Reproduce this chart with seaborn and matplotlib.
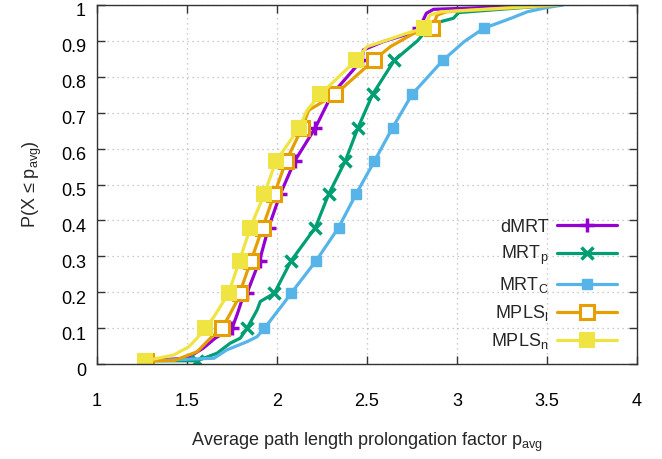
import matplotlib
matplotlib.use("Agg")
import matplotlib.pyplot as plt
import matplotlib.transforms as mtrans
from matplotlib.lines import Line2D
import seaborn as sns

# ---------------- data ----------------
MARK_Y = [0.009, 0.099, 0.197, 0.288, 0.38, 0.473, 0.565, 0.658, 0.751, 0.846, 0.935]

dmrt_x = [1.27, 1.50, 1.59, 1.657, 1.75, 1.78, 1.805, 1.833, 1.903, 1.953, 2.018, 2.098,
          2.213, 2.305, 2.47, 2.48, 2.59, 2.74, 2.79, 2.83, 2.87, 3.57]
dmrt_y = [0.009, 0.016, 0.044, 0.072, 0.099, 0.14, 0.178, 0.197, 0.288, 0.38, 0.473, 0.565,
          0.658, 0.751, 0.846, 0.875, 0.898, 0.921, 0.935, 0.977, 0.988, 1.0]

mrtp_x = [1.27, 1.556, 1.667, 1.74, 1.796, 1.833, 1.889, 1.907, 1.985, 2.079, 2.213, 2.287,
          2.379, 2.45, 2.531, 2.652, 2.78, 2.84, 2.89, 2.98, 3.01, 3.55]
mrtp_y = [0.009, 0.009, 0.03, 0.058, 0.072, 0.099, 0.15, 0.174, 0.197, 0.288, 0.38, 0.473,
          0.565, 0.658, 0.751, 0.846, 0.90, 0.935, 0.951, 0.963, 0.979, 1.0]

mrtc_x = [1.27, 1.65, 1.72, 1.833, 1.889, 1.93, 1.98, 2.037, 2.078, 2.218, 2.342, 2.439,
          2.541, 2.642, 2.75, 2.922, 3.04, 3.148, 3.30, 3.39, 3.50, 3.59]
mrtc_y = [0.009, 0.016, 0.039, 0.062, 0.076, 0.099, 0.132, 0.169, 0.197, 0.288, 0.38, 0.473,
          0.565, 0.658, 0.751, 0.846, 0.898, 0.935, 0.963, 0.981, 0.993, 1.0]

mplsl_x = [1.27, 1.43, 1.556, 1.63, 1.694, 1.74, 1.78, 1.792, 1.856, 1.92, 1.985, 2.05,
           2.14, 2.176, 2.324, 2.537, 2.63, 2.76, 2.86, 2.89, 2.94, 3.56]
mplsl_y = [0.009, 0.01, 0.034, 0.072, 0.099, 0.14, 0.178, 0.197, 0.288, 0.38, 0.473, 0.565,
           0.658, 0.707, 0.751, 0.846, 0.884, 0.921, 0.935, 0.972, 0.981, 1.0]

mplsn_x = [1.268, 1.426, 1.51, 1.556, 1.602, 1.65, 1.685, 1.731, 1.792, 1.852, 1.929, 1.994,
           2.124, 2.167, 2.241, 2.439, 2.50, 2.61, 2.72, 2.814, 2.85, 2.91, 3.56]
mplsn_y = [0.009, 0.025, 0.048, 0.072, 0.099, 0.132, 0.16, 0.197, 0.288, 0.38, 0.473, 0.565,
           0.658, 0.707, 0.751, 0.846, 0.884, 0.902, 0.921, 0.935, 0.972, 0.981, 1.0]

labels = ["dMRT", r"MRT$_\mathrm{p}$", r"MRT$_\mathrm{C}$", r"MPLS$_\mathrm{l}$", r"MPLS$_\mathrm{n}$"]
x_ticks = [1, 1.5, 2, 2.5, 3, 3.5, 4]
x_ticklabels = ["1", "1.5", "2", "2.5", "3", "3.5", "4"]
y_ticks = [0, 0.1, 0.2, 0.3, 0.4, 0.5, 0.6, 0.7, 0.8, 0.9, 1.0]
y_ticklabels = ["0", "0.1", "0.2", "0.3", "0.4", "0.5", "0.6", "0.7", "0.8", "0.9", "1"]

# ---------------- style ----------------
sns.set_theme(style="ticks")
plt.rcParams["font.family"] = ["Liberation Sans", "DejaVu Sans"]
plt.rcParams["mathtext.fontset"] = "custom"
plt.rcParams["mathtext.rm"] = "Liberation Sans"
plt.rcParams["mathtext.it"] = "Liberation Sans:italic"
plt.rcParams["mathtext.bf"] = "Liberation Sans:bold"

FS = 13
colors = ["#9400D3", "#009E73", "#56B4E9", "#E69F00", "#F0E442"]
styles = [
    dict(marker="+", markersize=10, markeredgewidth=2.5),
    dict(marker="x", markersize=9, markeredgewidth=2.5),
    dict(marker="s", markersize=7, markeredgewidth=1.0),
    dict(marker="s", markersize=10, markeredgewidth=2.2, markerfacecolor="white"),
    dict(marker="s", markersize=11, markeredgewidth=0.0),
]

series = [(dmrt_x, dmrt_y), (mrtp_x, mrtp_y), (mrtc_x, mrtc_y),
          (mplsl_x, mplsl_y), (mplsn_x, mplsn_y)]

fig = plt.figure(figsize=(6.62, 4.59), dpi=100)
ax = fig.add_axes([97 / 662, 1 - 364 / 459, 540 / 662, 359 / 459])

handles = []
for (xs, ys), c, st, lab in zip(series, colors, styles, labels):
    mev = [i for i, v in enumerate(ys) if round(v, 3) in MARK_Y]
    sns.lineplot(x=xs, y=ys, sort=False, estimator=None, ax=ax, color=c,
                 linewidth=2.3, markevery=mev, markeredgecolor=c,
                 **({"markerfacecolor": c} | st))
    handles.append(Line2D([], [], color=c, linewidth=2.3, markeredgecolor=c,
                          **({"markerfacecolor": c} | st)))

ax.set_xlim(1, 4)
ax.set_ylim(0, 1)
ax.set_xticks(x_ticks)
ax.set_xticklabels(x_ticklabels)
ax.set_yticks(y_ticks)
ax.set_yticklabels(y_ticklabels)

ax.grid(True, color="#bbbbbb", linestyle=(0, (1, 3)), linewidth=0.9)
for s in ax.spines.values():
    s.set_color("#333333")
    s.set_linewidth(1.0)
    s.set_visible(True)
ax.tick_params(axis="both", direction="in", length=6, width=1, color="#333333",
               top=True, right=True, labelsize=FS, labelcolor="black")
ax.tick_params(axis="x", pad=21)
ax.tick_params(axis="y", pad=8)

# gnuplot style: y labels slightly below their ticks
off = mtrans.ScaledTranslation(0, -5 / 100, fig.dpi_scale_trans)
for lab in ax.get_yticklabels():
    lab.set_transform(lab.get_transform() + off)

ax.set_xlabel(r"Average path length prolongation factor p$_\mathrm{avg}$", fontsize=FS, labelpad=15)
ax.set_ylabel(r"P(X ≤ p$_\mathrm{avg}$)", fontsize=FS, labelpad=12)

leg = ax.legend(handles, labels, loc="lower right", bbox_to_anchor=(0.963, 0.035),
                frameon=False, markerfirst=False, fontsize=FS, handlelength=3.3,
                handletextpad=0.5, labelspacing=0.45, borderpad=0, borderaxespad=0,
                numpoints=1)

fig.savefig("out.png", dpi=100)
